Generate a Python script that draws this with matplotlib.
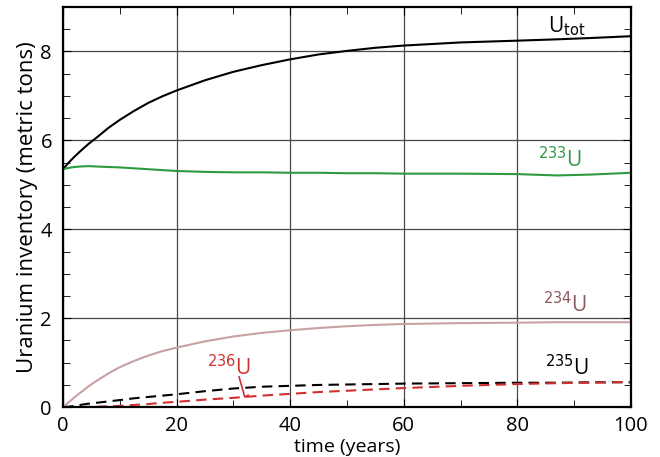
import numpy as np
import matplotlib
matplotlib.use('Agg')
import matplotlib.pyplot as plt
from matplotlib.ticker import MultipleLocator

plt.rcParams['font.family'] = ['Open Sans', 'DejaVu Sans']

# values
t = [0, 1, 2, 3, 4.5, 6, 8, 10, 12.5, 15, 17.5, 20, 25, 30, 35, 40, 45, 50, 55, 60, 70, 80, 87, 93, 100]
u_tot = [5.35, 5.5, 5.63, 5.75, 5.92, 6.07, 6.28, 6.46, 6.66, 6.84, 6.99, 7.12, 7.35, 7.54, 7.69, 7.82, 7.93, 8.01,
         8.08, 8.13, 8.2, 8.24, 8.27, 8.3, 8.34]
u233 = [5.35, 5.38, 5.40, 5.41, 5.42, 5.41, 5.40, 5.39, 5.37, 5.35, 5.33, 5.31, 5.29, 5.28, 5.28, 5.27, 5.27, 5.26,
        5.26, 5.25, 5.25, 5.24, 5.21, 5.23, 5.27]
u234 = [0.0, 0.11, 0.22, 0.32, 0.47, 0.6, 0.76, 0.9, 1.04, 1.16, 1.26, 1.34, 1.48, 1.59, 1.67, 1.73, 1.78, 1.82,
        1.85, 1.87, 1.89, 1.9, 1.91, 1.91, 1.91]
u235 = [0.0, 0.01, 0.03, 0.05, 0.08, 0.1, 0.13, 0.16, 0.2, 0.23, 0.26, 0.29, 0.36, 0.42, 0.46, 0.48, 0.5, 0.51,
        0.52, 0.53, 0.54, 0.55, 0.55, 0.56, 0.56]
u236 = [0.0, 0.0, 0.0, 0.0, 0.01, 0.01, 0.02, 0.03, 0.05, 0.07, 0.1, 0.12, 0.17, 0.21, 0.26, 0.3, 0.34, 0.37,
        0.4, 0.43, 0.48, 0.52, 0.54, 0.55, 0.57]

green = '#2e9a40'
rose = '#c9a0a3'
red = '#d0302f'

fig = plt.figure(figsize=(6.6, 4.57), dpi=100)
ax = fig.add_axes([0.0955, 0.109, 0.8605, 0.876])

ax.plot(t, u_tot, color='black', lw=1.5)
ax.plot(t, u233, color=green, lw=1.5)
ax.plot(t, u234, color=rose, lw=1.5)
ax.plot(t, u235, color='black', lw=1.5, ls=(0, (5, 3)))
ax.plot(t, u236, color=red, lw=1.5, ls=(0, (5, 3)))

ax.set_xlim(0, 100)
ax.set_ylim(0, 9)
ax.xaxis.set_major_locator(MultipleLocator(20))
ax.xaxis.set_minor_locator(MultipleLocator(10))
ax.yaxis.set_major_locator(MultipleLocator(2))
ax.yaxis.set_minor_locator(MultipleLocator(0.5))
ax.tick_params(which='both', direction='in', top=True, right=True, labelsize=14.5)
ax.tick_params(which='major', length=6)
ax.tick_params(which='minor', length=5)
ax.tick_params(axis='x', pad=6)
ax.tick_params(axis='y', pad=8)
ax.grid(True, which='major', color='#4a4a4a', lw=0.9)
for s in ax.spines.values():
    s.set_linewidth(1.6)

ax.set_xlabel('time (years)', fontsize=14, labelpad=2)
ax.set_ylabel('Uranium inventory (metric tons)', fontsize=16, labelpad=2)

# curve labels
ax.text(85.4, 8.43, r'U$_{\mathrm{tot}}$', fontsize=15, color='black')
ax.text(83.6, 5.39, r'$^{233}$U', fontsize=15, color=green)
ax.text(84.5, 2.13, r'$^{234}$U', fontsize=15, color='#8a5a5c')
ax.text(84.9, 0.72, r'$^{235}$U', fontsize=15, color='black')
ax.text(25.3, 0.72, r'$^{236}$U', fontsize=15, color=red)
ax.plot([31.0, 32.0, 32.6], [0.68, 0.23, 0.27], color=red, lw=1.2)

fig.savefig('out.png', dpi=100)
